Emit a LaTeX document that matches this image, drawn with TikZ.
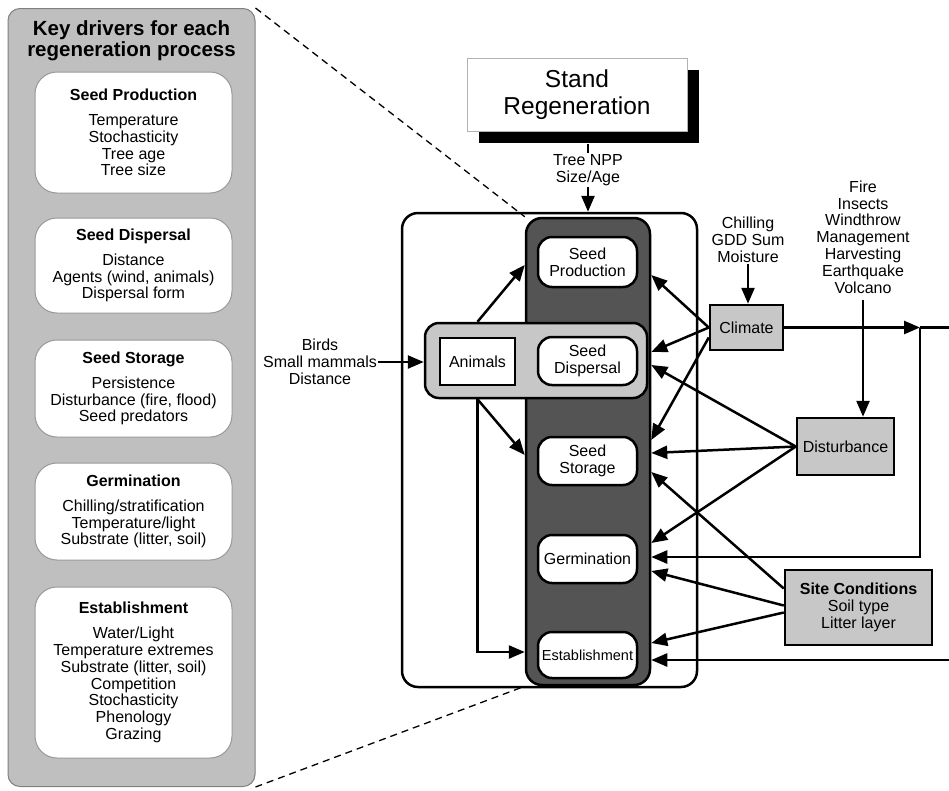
\documentclass[tikz,border=0pt]{standalone}
\usepackage{fontspec}
\setmainfont{Liberation Sans}
\usetikzlibrary{arrows.meta,shadows,calc}

\definecolor{panelgray}{gray}{0.75}
\definecolor{boxgray}{gray}{0.78}
\definecolor{colgray}{gray}{0.33}

\begin{document}
\begin{tikzpicture}[x=1pt,y=-1pt,
    every node/.style={font=\fontsize{16}{16.8}\selectfont,align=center},
    panel/.style={draw=gray,line width=1pt,fill=panelgray,rounded corners=12pt},
    driver/.style={draw=gray!80,line width=1pt,fill=white,rounded corners=22pt,
      minimum width=197pt,inner sep=0pt},
    proc/.style={draw,line width=2.5pt,fill=white,rounded corners=14pt,
      minimum width=99pt,minimum height=48pt,inner sep=0pt},
    factor/.style={draw,line width=2.5pt,fill=boxgray,inner sep=0pt},
    arr/.style={line width=2.5pt,-{Triangle[length=16pt,width=13pt]}},
    lbl/.style={inner sep=1pt}]
  \useasboundingbox (0,0) rectangle (949,790);
  % key drivers (left panel)
  \node[panel,minimum width=247pt,minimum height=778pt] (keypanel) at (131.5,397.5) {};
  \node[font=\bfseries\fontsize{20.5}{21}\selectfont] (keytitle) at (131.5,41)
    {Key drivers for each\\regeneration process};
  \node[driver,minimum height=121pt] (dprod) at (133.5,132.5)
    {\textbf{Seed Production}\\[8pt]Temperature\\Stochasticity\\Tree age\\Tree size};
  \node[driver,minimum height=95pt] (ddisp) at (133.5,265.5)
    {\textbf{Seed Dispersal}\\[8pt]Distance\\Agents (wind, animals)\\Dispersal form};
  \node[driver,minimum height=97pt] (dstor) at (133.5,388.5)
    {\textbf{Seed Storage}\\[8pt]Persistence\\Disturbance (fire, flood)\\Seed predators};
  \node[driver,minimum height=97pt] (dgerm) at (133.5,511.5)
    {\textbf{Germination}\\[8pt]Chilling/stratification\\Temperature/light\\Substrate (litter, soil)};
  \node[driver,minimum height=171pt] (dest) at (133.5,672.5)
    {\textbf{Establishment}\\[8pt]Water/Light\\Temperature extremes\\Substrate (litter, soil)\\
     Competition\\Stochasticity\\Phenology\\Grazing};

  % stand regeneration
  \node[draw=gray!60,line width=1pt,fill=white,minimum width=220pt,minimum height=73pt,
    font=\fontsize{24.5}{27}\selectfont,
    drop shadow={shadow xshift=12pt,shadow yshift=-12pt,fill=black,opacity=1}]
    (stand) at (577,94.5) {Stand\\Regeneration};
  \coordinate (standfoot) at ($(stand.south)+(0,12)$);
  \node[lbl] (npplbl) at (588,170) {Tree NPP\\Size/Age};

  % regeneration stages
  \node[draw,line width=2.5pt,rounded corners=16pt,minimum width=295pt,
    minimum height=474pt] (stage) at (549.5,450) {};
  \node[draw,line width=2.5pt,fill=colgray,rounded corners=16pt,minimum width=124pt,
    minimum height=467pt] (column) at (588,451.5) {};
  \node[draw,line width=2.5pt,fill=boxgray,rounded corners=14pt,minimum width=222pt,
    minimum height=75pt] (animgrp) at (536,360.5) {};
  \node[draw,line width=2.5pt,fill=white,minimum width=75pt,minimum height=47pt,
    inner sep=0pt] (anim) at (477.5,361.5) {Animals};
  \node[proc,minimum height=50pt] (cprod) at (587.5,262) {Seed\\Production};
  \node[proc] (cdisp) at (587.5,361) {Seed\\Dispersal};
  \node[proc] (cstor) at (587.5,461) {Seed\\Storage};
  \node[proc] (cgerm) at (587.5,559) {Germination};
  \node[proc,minimum height=46pt,font=\fontsize{14.5}{16}\selectfont] (cest) at (587.5,655)
    {Establishment};

  % outside factors
  \node[lbl] (vectors) at (320,362) {Birds\\Small mammals\\Distance};
  \node[factor,minimum width=73pt,minimum height=45pt] (climate) at (746.5,327.5) {Climate};
  \node[lbl] (climlbl) at (748,240) {Chilling\\GDD Sum\\Moisture};
  \node[factor,minimum width=97pt,minimum height=57pt] (dist) at (845.5,446.5) {Disturbance};
  \node[lbl] (distlbl) at (863,237)
    {Fire\\Insects\\Windthrow\\Management\\Harvesting\\Earthquake\\Volcano};
  \node[factor,minimum width=147pt,minimum height=75pt] (site) at (858.5,607.5)
    {\textbf{Site Conditions}\\Soil type\\Litter layer};
  \coordinate (loopturn) at (920,327.5);
  \coordinate (rimtop) at (949,327.5);
  \coordinate (rimbot) at (949,660);

  % zoom lines
  \draw[line width=1.3pt,dash pattern=on 7pt off 5pt] (keypanel.north east) -- (column.north west);
  \draw[line width=1.3pt,dash pattern=on 7pt off 5pt] (keypanel.south east) -- (column.south west);

  % connectors
  \draw[line width=2.5pt] (standfoot -| npplbl) -- (npplbl.north);
  \draw[arr] (npplbl.south) -- (npplbl.south |- stage.north);
  \draw[arr] (vectors.east) -- (vectors.east -| animgrp.west);
  \draw[arr] (anim.center |- animgrp.north) -- ($(column.west |- cprod)+(0,3)$);
  \draw[arr] (anim.center |- animgrp.south) -- ($(column.west |- cstor)+(0,-6)$);
  \draw[arr] (anim.center |- animgrp.south) |- ($(column.west |- cest)+(0,-3)$);
  \draw[arr] (climlbl.south) -- (climlbl.south |- climate.north);
  \draw[arr] ($(distlbl.south)+(0,6)$) -- (distlbl.south |- dist.north);
  \draw[arr] (climate.west) -- ($(column.east |- cprod)+(0,13)$);
  \draw[arr] (climate.west) -- ($(column.east |- cdisp)+(0,-9)$);
  \draw[arr] ($(climate.west)+(0,10)$) -- ($(column.east |- cstor)+(0,-21)$);
  \draw[arr] (climate.east) -- (loopturn);
  \draw[line width=2.5pt] (loopturn) -- (rimtop);
  \draw[arr] (loopturn) |- ($(column.east |- cgerm)+(0,-2)$);
  \draw[arr] (dist.west) -- ($(column.east |- cdisp)+(0,4)$);
  \draw[arr] (dist.west) -- ($(column.east |- cstor)+(0,-8)$);
  \draw[arr] (dist.west) -- ($(column.east |- cgerm)+(0,-16)$);
  \draw[arr] ($(site.west)+(0,-19)$) -- ($(column.east |- cstor)+(0,11)$);
  \draw[arr] ($(site.west)+(0,-2)$) -- ($(column.east |- cgerm)+(0,12)$);
  \draw[arr] ($(site.west)+(0,5)$) -- ($(column.east |- cest)+(0,-12)$);
  \draw[arr] (rimbot) -- (rimbot -| column.east);
\end{tikzpicture}
\end{document}
